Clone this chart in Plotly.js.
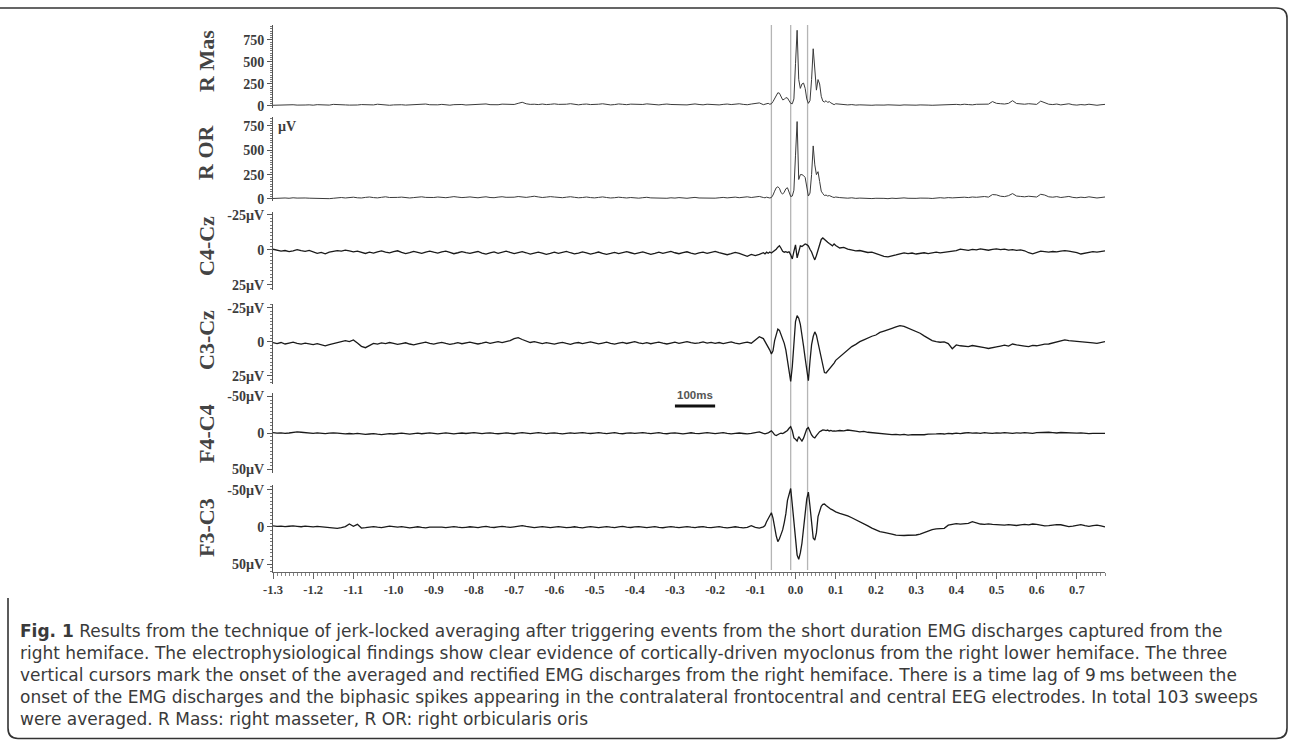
<!DOCTYPE html>
<html>
<head>
<meta charset="utf-8">
<script src="https://cdn.plot.ly/plotly-3.0.1.min.js"></script>
<style>html,body{margin:0;padding:0;background:#fff;}#chart{width:1290px;height:740px;}</style>
</head>
<body>
<div id="chart"></div>
<script>
// ---------- sampling grid (s): quiet part, spike part, late part ----------
function grid(start, step, n){ const a=[]; for(let i=0;i<n;i++) a.push(+(start+i*step).toFixed(3)); return a; }
const timeA = grid(-1.30, 0.01, 122);   // -1.30 .. -0.09
const timeB = grid(-0.080, 0.004, 45);  // -0.080 .. 0.096
const timeC = grid(0.10, 0.01, 68);     // 0.10 .. 0.77
const time = timeA.concat(timeB, timeC);

// ---------- R Mas (rectified EMG, µV) ----------
const rMasA = [8,10,6,12,9,14,10,7,11,13, 9,15,12,8,10,18,14,9,12,10, 7,11,16,13,9,12,20,15,10,8,
  12,17,14,10,13,9,11,16,22,14, 10,13,18,12,9,15,20,17,11,14, 16,12,19,23,15,11,14,21,18,13,
  17,30,42,25,18,20,16,22,16,19, 24,18,15,20,26,17,13,19,22,16, 14,20,25,18,12,16,23,19,15,21,
  18,13,17,24,20,15,12,18,22,17, 14,19,16,12,18,23,17,13,20,16, 15,12,18,22,16,20,25,18,14,22, 28,35];
const rMasB = [15,20,25,30,20,25,50,90,130,150,145,100,70,75,95,90,60,30,25,80,480,860,300,200,250,
  260,200,80,30,60,300,650,420,180,300,250,110,55,45,60,40,50,35,20,15];
const rMasC = [25,18,14,12,16,10,13,9,12,8, 11,7,10,13,9,6,8,12,10,7, 9,12,15,10,8,11,14,17,12,15,
  18,14,20,16,13,19,22,25,21,50, 30,26,22,30,60,28,24,20,26,22, 18,55,40,20,16,22,12,18,25,14, 10,16,12,20,15,8,14,18];

// ---------- R OR (rectified EMG, µV) ----------
const rOrA = [5,8,4,10,7,12,9,6,10,8, 6,4,2,5,3,7,12,15,10,14, 18,12,10,16,20,14,11,17,22,15,
  12,16,19,13,10,14,18,22,16,12, 15,20,17,13,18,24,19,14,17,21, 16,12,18,22,15,13,19,23,17,14,
  18,25,20,16,22,28,21,15,19,24, 20,16,13,18,23,17,12,15,20,14, 11,16,21,15,10,13,18,14,10,15,
  12,8,13,17,11,9,14,10,7,12, 9,14,11,7,12,16,10,8,13,10, 8,12,16,11,14,19,13,17,22,15, 20,26];
const rOrB = [15,12,18,14,10,15,40,80,115,125,110,65,50,70,105,115,70,25,30,90,450,795,200,250,250,
  240,220,110,30,60,250,545,350,250,280,180,80,55,35,40,30,35,25,20,15];
const rOrC = [20,14,10,8,12,6,9,5,8,4, 7,10,6,3,8,5,9,11,7,4, 6,9,12,8,5,10,13,9,14,11,
  15,12,18,14,20,17,22,25,19,45, 42,28,24,34,55,30,26,22,28,24, 20,48,40,22,18,24,15,20,26,16, 12,18,14,22,17,10,15,20];

// ---------- C4-Cz (EEG, µV, negative up) ----------
const c4CzA = [-0.5,0.2,0.8,0.4,1.2,0.6,-0.2,0.5,1.0,0.3, 1.5,2.4,1.8,2.8,1.6,1.1,0.5,0.9,0.2,0.6,
  1.4,0.8,1.9,2.5,1.6,2.2,1.3,0.7,1.5,2.1, 1.2,0.6,1.8,2.6,1.9,1.0,1.7,2.4,1.5,0.8,
  1.6,2.3,1.4,0.9,1.8,2.7,2.0,1.2,1.9,2.5, 1.7,1.1,2.2,3.0,2.1,1.4,2.4,1.6,0.9,1.8,
  2.6,1.9,1.2,2.0,2.9,2.2,1.5,2.3,3.1,2.4, 1.6,2.5,1.8,1.1,2.0,2.8,2.2,1.4,2.1,3.0,
  2.3,1.5,2.4,3.2,2.5,1.7,2.6,1.9,1.2,2.0, 2.8,2.1,1.4,2.3,3.1,2.4,1.6,2.5,1.8,1.1,
  2.0,2.7,1.9,1.3,2.2,2.9,2.1,1.5,2.4,1.7, 1.0,1.9,2.6,3.4,2.7,1.8,2.5,3.6,4.5,3.2, 4.0,3.2];
const c4CzB = [2.0,2.8,1.6,2.4,1.5,2.2,1.4,0.8,-0.5,-2.0,-3.0,-1.2,1.0,1.6,1.2,1.8,1.3,3.5,6.4,1.0,
  -3.6,5.7,2.0,-2.9,-2.5,-3.5,-4.3,-3.8,-2.9,-0.5,1.4,4.5,7.1,4.0,0.0,-4.0,-7.5,-8.6,-7.4,-6.4,
  -5.5,-4.6,-3.8,-2.9,-4.3];
const c4CzC = [-3.2,-1.4,-1.8,-0.6,0.2,0.7,0.4,1.2,1.8,1.5, 2.6,3.8,4.6,4.9,4.4,3.6,2.8,2.1,2.6,2.2,
  2.9,2.4,2.0,2.6,1.8,1.5,2.1,1.6,1.2,0.9, 0.5,-0.6,-0.2,0.3,-0.4,0.0,-0.7,-0.3,0.2,-0.4,
  -0.8,-0.3,-0.6,0.1,-0.2,0.3,0.0,0.6,2.0,2.8, 1.6,0.9,1.2,1.6,1.1,1.4,0.8,0.5,0.9,1.3, 1.9,2.9,2.2,1.6,1.2,1.5,0.9,0.7];

// ---------- C3-Cz (EEG, µV, negative up) ----------
const c3CzA = [0.5,1.2,0.4,1.5,0.8,0.2,1.0,1.6,0.9,1.4, 2.0,1.3,2.2,2.8,1.9,1.2,0.6,-0.4,-1.0,-0.3,
  -1.5,0.8,3.2,4.2,2.4,1.0,1.6,0.7,1.2,0.4, 1.0,1.8,1.2,0.6,1.5,2.2,1.4,0.8,0.2,1.0,
  1.6,0.9,0.3,1.1,1.8,1.2,0.5,1.3,0.7,0.1, 0.8,1.5,0.9,0.2,1.0,0.4,-0.3,0.5,-0.2,-1.0,
  -2.5,-3.2,-1.8,-0.5,0.4,-0.2,0.6,1.2,0.5,1.0, 1.6,0.8,0.3,1.1,1.7,0.9,0.4,1.2,0.6,0.0,
  0.7,1.4,0.8,0.2,1.0,1.6,0.9,0.3,1.1,0.5, -0.2,0.6,1.2,0.5,1.3,0.7,0.1,0.9,1.5,0.8,
  0.2,1.0,0.4,-0.3,0.5,1.1,0.6,0.0,0.8,0.3, 1.0,0.4,1.2,0.6,0.0,0.8,1.4,0.7,0.2,0.9, -1.2,-3.9];
const c3CzB = [-2.5,-0.5,1.8,3.4,6.0,8.8,6.5,-1.0,-6.5,-9.5,-8.5,-5.5,-2.0,1.0,6.0,13.0,22.0,29.0,18.0,-2.0,
  -15.0,-19.3,-17.5,-13.0,-6.0,3.0,12.0,22.0,28.5,14.0,2.0,-4.0,-7.4,-5.0,0.5,7.0,13.0,19.0,22.5,22.8,
  21.5,20.0,18.5,17.0,15.5];
const c3CzC = [13.5,10.8,8.5,6.0,3.4,1.8,-0.2,-1.5,-3.0,-4.2, -5.1,-7.0,-8.0,-8.8,-10.0,-11.0,-12.0,-11.5,-10.2,-8.8,
  -7.2,-6.4,-4.5,-2.8,-1.0,-0.3,0.2,0.0,1.2,5.0, 2.2,2.8,3.0,3.4,2.6,3.3,3.8,4.2,4.8,4.4,
  3.6,3.0,2.4,3.1,1.5,2.2,2.8,3.0,3.4,2.5, 2.8,2.0,1.6,1.5,0.8,0.2,-0.6,-1.5,-1.0,-0.8, -0.5,-0.2,0.3,0.0,0.6,1.0,0.4,-0.2];

// ---------- F4-C4 (EEG, µV, negative up) ----------
const f4C4A = [-0.5,0.3,-0.2,0.6,0.0,-0.8,-1.5,-1.0,-0.4,0.2, 0.5,-0.1,0.4,0.9,0.3,-0.3,0.2,0.8,1.3,0.7,
  1.2,0.6,1.5,2.0,1.4,0.8,1.6,2.2,1.5,0.9, 1.4,0.7,0.2,0.9,1.5,0.8,0.3,1.0,0.4,-0.3,
  0.4,1.1,0.5,-0.1,0.6,1.2,0.6,0.0,0.7,0.2, -0.4,0.3,0.9,0.2,-0.3,0.5,1.0,0.4,-0.2,0.4,
  1.0,0.3,-0.4,0.2,0.8,0.1,-0.5,0.3,0.9,0.2, -0.3,0.5,1.1,0.4,-0.2,0.6,0.0,-0.6,0.2,0.7,
  0.1,-0.5,0.3,0.9,0.2,-0.4,0.4,1.0,0.3,-0.2, 0.6,0.0,-0.6,0.2,0.8,0.1,-0.5,0.4,1.0,0.3,
  -0.2,0.5,1.1,0.4,-0.3,0.4,0.9,0.2,-0.4,0.3, 0.9,0.2,-0.4,0.5,1.2,0.5,0.0,0.7,1.3,0.6, 0.0,-1.5];
const f4C4B = [0.5,1.2,0.4,0.0,-1.5,-3.0,-0.5,2.5,3.5,2.0,1.0,0.3,0.8,-0.5,-1.5,-3.5,-6.5,-8.8,-3.0,6.8,
  8.5,11.0,5.0,9.0,11.0,7.0,-1.0,-5.5,-7.3,-2.0,2.7,5.5,6.8,3.5,0.0,-1.8,-3.0,-4.2,-4.0,-3.2,
  -4.0,-2.8,-3.5,-2.6,-3.0];
const f4C4C = [-2.5,-3.4,-2.8,-4.1,-3.6,-2.6,-1.5,-2.2,-1.0,-0.4, 0.5,1.2,0.8,1.6,2.2,1.8,2.6,2.0,2.8,2.3,
  2.6,1.9,2.4,1.5,1.8,1.2,0.8,1.4,0.6,1.0, 0.3,0.8,0.0,-0.5,0.2,-0.3,0.4,-0.4,0.1,0.5,
  -0.2,0.3,-0.5,0.0,0.6,-0.3,0.2,-0.6,-0.1,0.4, -0.4,-0.8,-0.2,-1.0,-0.5,0.0,-0.7,-0.3,0.2,-0.4, 0.3,-0.2,0.5,0.9,0.4,0.8,0.3,0.6];

// ---------- F3-C3 (EEG, µV, negative up) ----------
const f3C3A = [-1.5,-0.8,-1.2,-0.4,-1.0,-1.6,-0.9,-0.3,-1.1,-0.6, -0.2,-0.9,-0.4,0.3,1.0,1.5,1.8,0.9,-0.5,-4.0,
  -1.0,-3.6,1.5,1.0,0.4,-0.5,0.3,0.8,-0.2,-1.2, -0.5,0.3,-0.4,0.6,1.2,0.4,-0.3,0.5,1.1,0.3,
  0.3,-0.4,0.2,0.9,0.1,-0.6,0.3,1.0,0.4,-0.3, 0.2,0.8,0.0,-0.7,0.1,0.7,-0.1,-0.8,0.0,0.6,
  -0.2,-1.0,-1.8,-0.8,0.2,0.8,0.1,-0.6,0.2,0.9, 0.3,-0.4,0.3,1.0,0.4,-0.3,0.5,1.1,0.3,-0.4,
  0.2,0.9,0.2,-0.5,0.3,0.8,0.0,-0.7,0.1,0.7, 0.0,-0.6,0.2,0.9,0.3,-0.4,0.4,1.0,0.2,-0.5,
  0.3,0.9,0.1,-0.6,0.2,0.8,0.0,-0.5,0.4,1.0, 0.3,-0.4,0.5,1.1,0.4,-0.3,0.6,1.2,0.5,-1.8, 0.5,1.5];
const f3C3B = [0.0,-2.0,-7.0,-11.0,-16.0,-19.3,-12.0,2.0,12.0,19.8,16.0,10.0,4.0,-6.0,-18.0,-36.0,-46.0,-52.0,-30.0,-5.0,
  18.0,38.0,43.6,35.0,22.0,5.0,-18.0,-38.0,-47.0,-28.0,0.0,15.0,17.6,8.0,-14.0,-22.0,-28.0,-30.5,-31.0,-29.0,
  -27.0,-25.5,-24.0,-23.0,-21.5];
const f3C3C = [-20.5,-18.5,-17.0,-15.0,-12.5,-10.0,-7.2,-4.5,-1.5,1.5, 4.0,6.3,7.3,8.1,9.5,11.0,11.7,11.5,11.2,11.0,
  10.8,9.5,7.5,4.8,3.5,2.5,2.0,1.8,-2.5,-4.0, -4.5,-3.8,-4.0,-5.0,-7.2,-5.2,-4.0,-3.5,-4.2,-3.4,
  -3.0,-3.0,-2.4,-3.2,-2.6,-2.0,-2.7,-3.4,-2.8,-4.0, -3.4,-2.6,-1.5,-1.8,-2.8,-3.2,-3.0,-1.8,-0.4,-1.2, -2.6,-3.2,-1.8,-0.9,-1.9,-2.6,-1.4,0.0];

// ---------- labels, ticks, cursors ----------
const channelNames = ['R Mas','R OR','C4-Cz','C3-Cz','F4-C4','F3-C3'];
const emgTickVals = [0,250,500,750];
const emgTickText = ['0','250','500','750'];
const eeg25TickVals = [-25,0,25];
const eeg25TickText = ['-25µV','0','25µV'];
const eeg50TickVals = [-50,0,50];
const eeg50TickText = ['-50µV','0','50µV'];
const xTickVals = [-1.3,-1.2,-1.1,-1.0,-0.9,-0.8,-0.7,-0.6,-0.5,-0.4,-0.3,-0.2,-0.1,0.0,0.1,0.2,0.3,0.4,0.5,0.6,0.7];
const xTickText = ['-1.3','-1.2','-1.1','-1.0','-0.9','-0.8','-0.7','-0.6','-0.5','-0.4','-0.3','-0.2','-0.1','0.0','0.1','0.2','0.3','0.4','0.5','0.6','0.7'];
const cursorTimes = [-0.06,-0.012,0.03];
const scaleBar = [-0.3,-0.2];
const captionLines = [
  '<b>Fig. 1</b> Results from the technique of jerk-locked averaging after triggering events from the short duration EMG discharges captured from the',
  'right hemiface. The electrophysiological findings show clear evidence of cortically-driven myoclonus from the right lower hemiface. The three',
  'vertical cursors mark the onset of the averaged and rectified EMG discharges from the right hemiface. There is a time lag of 9\u2009ms between the',
  'onset of the EMG discharges and the biphasic spikes appearing in the contralateral frontocentral and central EEG electrodes. In total 103 sweeps',
  'were averaged. R Mass: right masseter, R OR: right orbicularis oris'
];

const series = [
  rMasA.concat(rMasB, rMasC), rOrA.concat(rOrB, rOrC), c4CzA.concat(c4CzB, c4CzC),
  c3CzA.concat(c3CzB, c3CzC), f4C4A.concat(f4C4B, f4C4C), f3C3A.concat(f3C3B, f3C3C)
];
series.forEach((s,i)=>{ if(s.length!==time.length) throw new Error(channelNames[i]+' length '+s.length+' vs '+time.length); });

// ---------- geometry helpers (pixel -> paper) ----------
const L=273, R=1105, T=20, B=572;
const px = x => (x-L)/(R-L);
const py = y => (B-y)/(B-T);

const domains = [[25,108],[117,201],[212,290],[304,384],[393,473],[485,572]];
const ranges = [[-23,920],[-21,842],[28.6,-27.1],[30.9,-27.9],[54.8,-54.8],[60.8,-56.7]];
const tickSets = [[emgTickVals,emgTickText,25],[emgTickVals,emgTickText,25],[eeg25TickVals,eeg25TickText,2.5],
                  [eeg25TickVals,eeg25TickText,2.5],[eeg50TickVals,eeg50TickText,5],[eeg50TickVals,eeg50TickText,5]];
const lineColors = ['#3a3a3a','#3a3a3a','#1a1a1a','#1a1a1a','#1a1a1a','#1a1a1a'];
const lineWidths = [1.0,1.0,1.3,1.3,1.3,1.3];
const labelCenters = [61,152,246,340,434,528];

const serif = {family:'Liberation Serif, Times New Roman, serif', size:14, color:'#3c3c3c', weight:'bold'};

const traces = series.map((s,i)=>({
  x: time, y: s, type:'scatter', mode:'lines',
  xaxis:'x', yaxis: i===0?'y':'y'+(i+1),
  line:{color:lineColors[i], width:lineWidths[i]}, hoverinfo:'skip'
}));

const layout = {
  width:1290, height:740,
  margin:{l:L, r:1290-R, t:T, b:740-B, pad:0},
  paper_bgcolor:'#fff', plot_bgcolor:'rgba(0,0,0,0)',
  showlegend:false,
  xaxis:{range:[-1.3,0.77], anchor:'y6', showline:true, linecolor:'#666', linewidth:1,
    ticks:'outside', ticklen:6, tickcolor:'#666', tickwidth:1,
    tickmode:'array', tickvals:xTickVals, ticktext:xTickText, tickfont:Object.assign({}, serif, {size:12.5}),
    minor:{tickmode:'linear', tick0:-1.3, dtick:0.01, ticks:'outside', ticklen:3, tickcolor:'#888', showgrid:false},
    showgrid:false, zeroline:false, fixedrange:true},
  annotations:[], shapes:[]
};

for(let i=0;i<6;i++){
  const key = i===0?'yaxis':'yaxis'+(i+1);
  const d = domains[i];
  layout[key] = {
    domain:[py(d[1]), py(d[0])], range:ranges[i], anchor:'x',
    showline:true, linecolor:'#555', linewidth:1,
    ticks:'outside', ticklen:5, tickcolor:'#555',
    tickmode:'array', tickvals:tickSets[i][0], ticktext:tickSets[i][1], tickfont:serif,
    minor:{tickmode:'linear', tick0:0, dtick:tickSets[i][2], ticks:'outside', ticklen:2.5, tickcolor:'#777', showgrid:false},
    showgrid:false, zeroline:false, fixedrange:true
  };
  layout.annotations.push({
    xref:'paper', yref:'paper', x:px(206), y:py(labelCenters[i]),
    text:channelNames[i], showarrow:false, textangle:-90,
    font:{family:'Liberation Serif, Times New Roman, serif', size:22, color:'#444', weight:'bold'},
    xanchor:'center', yanchor:'middle'
  });
}

// µV unit label on R OR
layout.annotations.push({xref:'paper', yref:'paper', x:px(276), y:py(127), text:'µV', showarrow:false,
  xanchor:'left', yanchor:'middle', font:serif});

// scale bar label
layout.annotations.push({xref:'x', yref:'paper', x:(scaleBar[0]+scaleBar[1])/2, y:py(395), text:'100ms', showarrow:false,
  xanchor:'center', yanchor:'middle', font:{family:'Liberation Sans, Arial, sans-serif', size:11.5, color:'#555', weight:'bold'}});

// caption (single block, line spacing = 1.3 em)
layout.annotations.push({xref:'paper', yref:'paper', x:px(19), y:py(674.5), text:captionLines.join('<br>'), showarrow:false,
  xanchor:'left', yanchor:'middle', align:'left', borderpad:0,
  font:{family:'DejaVu Sans, Verdana, sans-serif', size:17, color:'#3a3a3a'}});

// vertical cursors
cursorTimes.forEach(c=>{
  layout.shapes.push({type:'line', xref:'x', yref:'paper', x0:c, x1:c, y0:py(570), y1:py(25),
    line:{color:'#b5b5b5', width:1.3}, layer:'below'});
});

// 100 ms scale bar
layout.shapes.push({type:'line', xref:'x', yref:'paper', x0:scaleBar[0], x1:scaleBar[1], y0:py(406), y1:py(406),
  line:{color:'#111', width:3}});

// figure frame (rounded box)
const fx0=px(0), fxl=px(8), fxl2=px(18), fxr=px(1287), fxr2=px(1276);
const fyt=py(8), fyt2=py(18), fyl=py(598), fyb=py(738.5), fyb2=py(728);
layout.shapes.push({type:'path', xref:'paper', yref:'paper',
  path:`M ${fx0},${fyt} L ${fxr2},${fyt} Q ${fxr},${fyt} ${fxr},${fyt2} L ${fxr},${fyb2} Q ${fxr},${fyb} ${fxr2},${fyb} L ${fxl2},${fyb} Q ${fxl},${fyb} ${fxl},${fyb2} L ${fxl},${fyl}`,
  line:{color:'#333', width:1.6}});

Plotly.newPlot('chart', traces, layout, {displayModeBar:false, staticPlot:true});
</script>
</body>
</html>
